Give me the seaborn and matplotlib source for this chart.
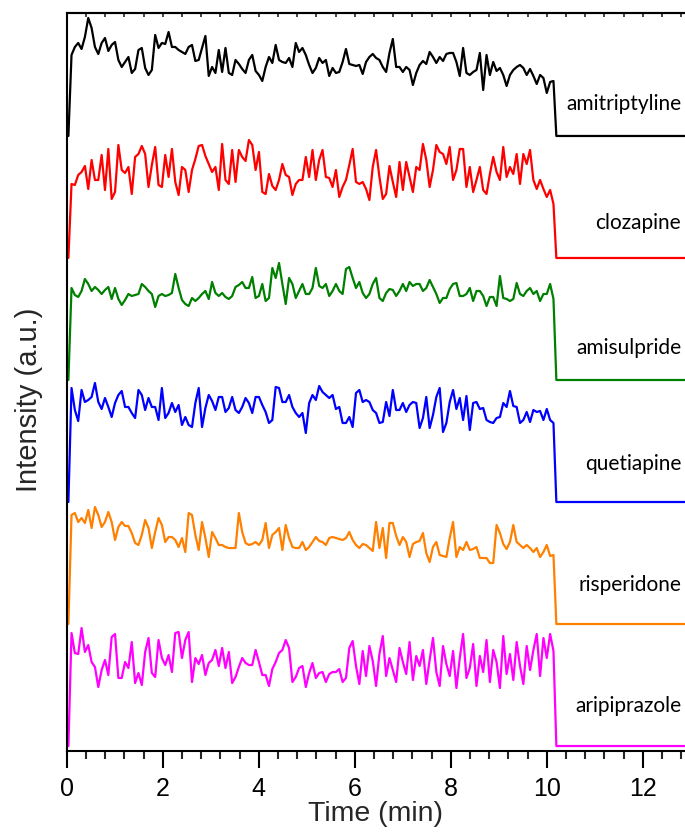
import numpy as np
import pandas as pd
import matplotlib
matplotlib.use("Agg")
import matplotlib.pyplot as plt
import seaborn as sns
from matplotlib.ticker import MultipleLocator

# ---------------- data ----------------
drugs = ["amitriptyline", "clozapine", "amisulpride", "quetiapine", "risperidone", "aripiprazole"]
colors = ["#000000", "#FF0000", "#008000", "#0000FF", "#FF8000", "#FF00FF"]
offsets = [610, 488, 366, 244, 122, 0]          # vertical stacking offsets (a.u.)

t_start, t_first, t_last, t_drop, t_end = 0.035, 0.10, 10.14, 10.20, 12.88   # min

amitriptyline = [
    81, 89, 93, 87, 99, 118, 108, 89, 82, 93,
    98, 85, 91, 94, 76, 69, 74, 79, 63, 67,
    86, 88, 68, 61, 66, 101, 88, 93, 92, 104,
    89, 89, 86, 84, 82, 89, 91, 75, 76, 88,
    100, 60, 69, 63, 86, 64, 88, 63, 61, 76,
    72, 67, 63, 76, 81, 65, 61, 55, 69, 79,
    73, 91, 76, 74, 73, 78, 69, 93, 84, 88,
    81, 71, 63, 68, 78, 73, 76, 60, 68, 63,
    64, 74, 87, 72, 71, 70, 71, 62, 74, 79,
    82, 78, 76, 69, 64, 83, 97, 69, 69, 64,
    69, 66, 51, 63, 71, 75, 72, 84, 79, 73,
    79, 75, 82, 83, 83, 74, 60, 88, 63, 61,
    64, 66, 83, 46, 81, 61, 74, 65, 68, 61,
    50, 61, 66, 69, 71, 68, 61, 67, 60, 52,
    61, 58, 43, 54, 55]

clozapine = [
    74, 73, 83, 86, 92, 69, 98, 78, 78, 103,
    68, 109, 59, 66, 113, 88, 85, 91, 64, 101,
    104, 112, 104, 71, 93, 111, 73, 71, 103, 81,
    109, 76, 63, 91, 88, 66, 88, 99, 112, 113,
    102, 94, 86, 91, 68, 114, 78, 74, 108, 76,
    108, 101, 97, 118, 113, 88, 106, 66, 64, 84,
    72, 68, 78, 94, 83, 81, 63, 74, 78, 78,
    101, 81, 108, 78, 98, 108, 81, 80, 71, 88,
    61, 71, 78, 93, 109, 76, 74, 76, 69, 58,
    91, 108, 81, 59, 64, 92, 76, 61, 96, 68,
    96, 81, 66, 91, 88, 114, 98, 71, 88, 113,
    106, 104, 94, 111, 78, 88, 109, 109, 71, 91,
    66, 78, 91, 68, 64, 84, 101, 86, 78, 111,
    81, 91, 84, 104, 74, 104, 94, 108, 78, 69,
    78, 69, 61, 68, 54]

amisulpride = [
    92, 85, 83, 89, 101, 96, 89, 93, 90, 86,
    90, 93, 81, 92, 81, 75, 80, 86, 84, 85,
    86, 96, 93, 89, 86, 73, 84, 86, 84, 85,
    87, 106, 92, 80, 76, 74, 82, 79, 82, 86,
    89, 81, 98, 87, 84, 87, 83, 81, 84, 93,
    95, 98, 92, 92, 103, 82, 84, 96, 79, 82,
    112, 102, 117, 96, 76, 102, 96, 82, 89, 96,
    86, 86, 92, 112, 94, 92, 96, 84, 89, 96,
    89, 86, 111, 113, 102, 92, 98, 87, 82, 86,
    96, 102, 82, 79, 87, 91, 90, 84, 89, 96,
    89, 98, 94, 96, 96, 89, 92, 100, 93, 86,
    77, 82, 82, 91, 96, 97, 84, 84, 86, 92,
    79, 89, 89, 84, 74, 83, 83, 74, 104, 82,
    81, 79, 81, 97, 86, 84, 89, 92, 86, 89,
    79, 86, 86, 96, 81]

quetiapine = [
    114, 92, 81, 112, 100, 102, 105, 119, 100, 93,
    104, 95, 85, 99, 107, 111, 95, 95, 89, 84,
    112, 107, 92, 104, 95, 95, 82, 114, 84, 89,
    99, 90, 97, 77, 85, 77, 75, 99, 114, 75,
    94, 107, 101, 92, 105, 105, 90, 94, 105, 92,
    89, 95, 104, 99, 89, 105, 105, 97, 90, 79,
    82, 115, 114, 100, 100, 107, 95, 89, 85, 89,
    69, 99, 107, 102, 116, 110, 107, 104, 107, 93,
    95, 79, 79, 85, 75, 109, 112, 100, 102, 100,
    92, 89, 79, 80, 100, 86, 112, 92, 92, 99,
    90, 97, 100, 99, 74, 84, 105, 74, 87, 105,
    114, 70, 79, 100, 112, 93, 104, 82, 106, 72,
    99, 100, 93, 94, 82, 80, 79, 84, 85, 99,
    95, 111, 96, 95, 79, 82, 90, 80, 92, 90,
    91, 82, 93, 82, 79]

risperidone = [
    109, 111, 102, 106, 101, 114, 96, 117, 109, 97,
    102, 112, 102, 84, 97, 102, 98, 98, 91, 81,
    79, 89, 104, 96, 76, 92, 106, 99, 82, 87,
    87, 84, 77, 86, 72, 111, 109, 89, 74, 102,
    86, 67, 92, 86, 79, 79, 77, 76, 76, 76,
    111, 92, 81, 79, 80, 82, 79, 84, 101, 76,
    89, 92, 96, 74, 99, 86, 77, 76, 76, 82,
    74, 77, 82, 87, 83, 82, 79, 86, 87, 86,
    85, 84, 86, 92, 84, 79, 76, 80, 79, 76,
    73, 102, 76, 96, 66, 101, 101, 88, 79, 87,
    82, 67, 80, 82, 83, 91, 71, 62, 77, 82,
    69, 68, 67, 86, 102, 67, 77, 74, 82, 74,
    75, 77, 66, 66, 66, 61, 61, 99, 91, 80,
    75, 82, 99, 82, 79, 76, 79, 76, 72, 76,
    67, 72, 79, 68, 69]

aripiprazole = [
    113, 93, 92, 118, 94, 101, 84, 79, 59, 76,
    86, 71, 109, 112, 68, 68, 84, 78, 104, 63,
    73, 61, 94, 108, 73, 69, 106, 88, 81, 91,
    74, 113, 114, 88, 106, 114, 64, 88, 82, 91,
    71, 83, 86, 96, 80, 98, 78, 94, 63, 69,
    79, 88, 83, 81, 81, 96, 84, 71, 71, 60,
    77, 84, 93, 96, 106, 98, 64, 69, 78, 80,
    59, 73, 83, 68, 73, 74, 64, 72, 74, 74,
    77, 64, 68, 98,
    105, 80, 62, 95, 70, 100, 85, 60, 92, 110,
    70, 88, 76, 64, 98, 84, 72, 104, 66, 90,
    80, 96, 62, 86, 108, 74, 60, 100, 82, 70,
    95, 58, 88, 112, 68, 78, 102, 60, 90, 74,
    106, 64, 96, 84, 58, 110, 72, 92, 66, 104,
    80, 62, 100, 76, 96, 112, 70, 108, 88, 112,
    95]

series = [amitriptyline, clozapine, amisulpride, quetiapine, risperidone, aripiprazole]
x_ticks = [0, 2, 4, 6, 8, 10, 12]

# ---------------- build table ----------------
frames = []
for name, vals, off in zip(drugs, series, offsets):
    t = np.concatenate([[t_start], np.linspace(t_first, t_last, len(vals)), [t_drop, t_end]])
    v = np.concatenate([[0.0], np.asarray(vals, float), [0.0, 0.0]]) + off
    frames.append(pd.DataFrame({"time": t, "signal": v, "drug": name}))
df = pd.concat(frames, ignore_index=True)

# ---------------- plot ----------------
sns.set_style("ticks")
plt.rcParams["font.family"] = ["Liberation Sans", "DejaVu Sans"]

fig = plt.figure(figsize=(6.85, 8.34), dpi=100)
ax = fig.add_axes([0.0974, 0.0995, 0.9026, 0.8853])

sns.lineplot(data=df, x="time", y="signal", hue="drug", hue_order=drugs,
             palette=dict(zip(drugs, colors)), estimator=None, sort=False,
             legend=False, linewidth=1.6, ax=ax)

ax.set_xlim(0, 12.88)
ax.set_ylim(-5, 733.3)
ax.set_yticks([])
ax.set_xticks(x_ticks)
ax.set_xticklabels([str(v) for v in x_ticks])
ax.xaxis.set_minor_locator(MultipleLocator(0.4))
ax.tick_params(axis="x", which="major", direction="out", length=12, width=1.5,
               labelsize=18, pad=7, colors="black")
ax.tick_params(axis="x", which="minor", direction="out", length=6, width=1.5)

for s in ["left", "bottom", "top"]:
    ax.spines[s].set_linewidth(1.5)
    ax.spines[s].set_color("black")
ax.spines["right"].set_visible(False)

sec = ax.secondary_xaxis("top")
sec.xaxis.set_major_locator(MultipleLocator(0.4))
sec.tick_params(axis="x", direction="in", length=3, width=1.2, labeltop=False)
sec.spines["top"].set_linewidth(1.5)

ax.set_xlabel("Time (min)", fontsize=20.5, labelpad=0)
ax.set_ylabel("Intensity (a.u.)", fontsize=21)
ax.yaxis.set_label_coords(-0.038, 0.475)

label_dy = [32, 35, 32, 38, 39, 40]
for name, off, dy in zip(drugs, offsets, label_dy):
    ax.text(12.8, off + dy, name, ha="right", va="center", fontsize=15,
            family=["Lato", "DejaVu Sans"], color="black")

fig.savefig("out.png", dpi=100)
